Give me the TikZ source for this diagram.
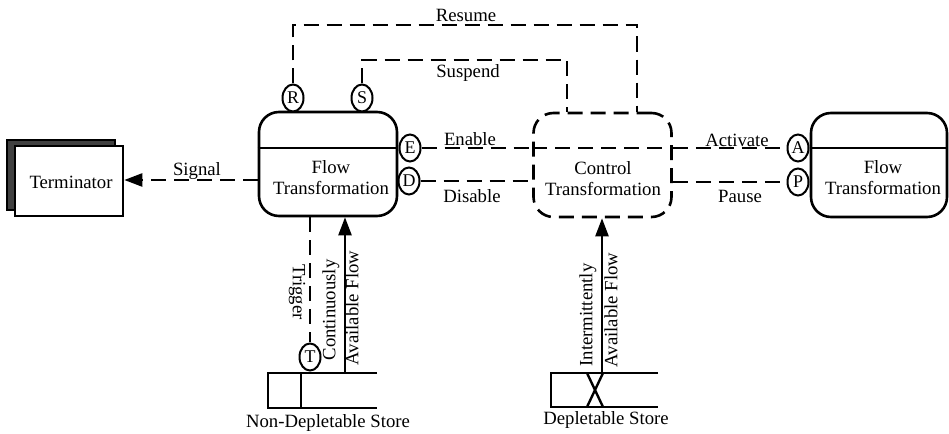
\documentclass[tikz,border=0pt]{standalone}
\usepackage{fontspec}
\setmainfont{Liberation Serif}
\usetikzlibrary{arrows.meta,shapes.geometric}

\begin{document}
\begin{tikzpicture}[x=1bp,y=-1bp,
  every node/.style={font=\fontsize{18.8}{21}\selectfont},
  line/.style={line width=2.4bp},
  ctl/.style={line width=2.4bp, dash pattern=on 15bp off 8bp},
  flowbox/.style={draw, line width=2.6bp, rounded corners=20bp,
    minimum width=138bp, minimum height=104bp, inner sep=0},
  ctlbox/.style={flowbox, dash pattern=on 15bp off 8bp},
  port/.style={draw, ellipse, line width=2bp, fill=white,
    minimum width=21bp, minimum height=27bp, inner sep=0,
    font=\fontsize{18}{18}\selectfont},
  lbl/.style={inner sep=0, align=center},
  tip/.style={-{Triangle[length=18bp,width=13bp]}}
]
\useasboundingbox (0,0) rectangle (949,434);

% level of the dividing lines in the transformation boxes
\coordinate (dv) at (0,148);

% terminator with its shadow
\node[draw, line width=2bp, fill=black!75, minimum width=108bp,
  minimum height=70bp] (shadow) at (61,175) {};
\node[draw, line width=2.6bp, fill=white, minimum width=108bp,
  minimum height=70bp] (term) at (69,181) {};
\node[lbl] (termt) at (71,182) {Terminator};

% transformations
\node[flowbox] (ft1) at (328,164) {};
\node[lbl] (ft1t) at (331,178) {Flow\\Transformation};
\draw[line] (ft1.west |- dv) -- (ft1.east |- dv);

\node[ctlbox] (ct) at (602.5,165) {};
\node[lbl] (ctt) at (603,179) {Control\\Transformation};
\draw[ctl] (ct.west |- dv) -- (ct.east |- dv);

\node[flowbox, minimum width=136bp] (ft2) at (879,165) {};
\node[lbl] (ft2t) at (883,178) {Flow\\Transformation};
\draw[line] (ft2.west |- dv) -- (ft2.east |- dv);

% prompts
\node[port] (R) at (293,98) {R};
\node[port] (S) at (362,98) {S};
\node[port] (E) at (410,148) {E};
\node[port] (D) at (409,181) {D};
\node[port] (A) at (798,148) {A};
\node[port] (P) at (798,182) {P};
\node[port] (T) at (310,357) {T};

% control flows
\coordinate (rs) at (637,25);
\coordinate (ss) at (567,60);
\coordinate (sg) at (0,180);
\draw[ctl] (R.north) |- (rs) -- (rs |- ct.north);
\draw[ctl] (S.north) |- (ss) -- (ss |- ct.north);
\draw[ctl] (E.east) -- (E.east -| ct.west);
\draw[ctl] (D.east) -- (D.east -| ct.west);
\draw[ctl] (A.west -| ct.east) -- (A.west);
\draw[ctl] (P.west -| ct.east) -- (P.west);
\draw[ctl, tip] (ft1.west |- sg) -- (term.east |- sg);
\draw[ctl] (ft1.south -| T.north) -- (T.north);

\node[lbl] (lres) at (466,15) {Resume};
\node[lbl] (lsus) at (468,73) {Suspend};
\node[lbl] (lena) at (470,139) {Enable};
\node[lbl] (ldis) at (472,196) {Disable};
\node[lbl] (lact) at (737,140) {Activate};
\node[lbl] (lpau) at (740,196) {Pause};
\node[lbl] (lsig) at (197,171) {Signal};
\node[lbl, rotate=-90] (ltrg) at (297,292) {Trigger};

% non-depletable store
\node[inner sep=0, minimum width=109bp, minimum height=35bp] (nds) at (322.5,390.5) {};
\draw[line] (nds.north east) -- (nds.north west) -- (nds.south west) -- (nds.south east);
\draw[line] ([xshift=33bp]nds.north west) -- ([xshift=33bp]nds.south west);
\node[lbl] (ndsl) at (328,423) {Non-Depletable Store};
\coordinate (cf) at (345,373);
\draw[line, tip] (cf) -- (cf |- ft1.south);
\node[lbl, rotate=90] (lcon) at (331,310) {Continuously};
\node[lbl, rotate=90] (lav1) at (352,308) {Available Flow};

% depletable store
\node[inner sep=0, minimum width=107bp, minimum height=34bp] (ds) at (604.5,390) {};
\draw[line] (ds.north east) -- (ds.north west) -- (ds.south west) -- (ds.south east);
\draw[line] (587,373) -- (603,407) (603,373) -- (587,407);
\node[lbl] (dsl) at (606,420) {Depletable Store};
\coordinate (inf) at (602,373);
\draw[line, tip] (inf) -- (inf |- ct.south);
\node[lbl, rotate=90] (lint) at (588,315) {Intermittently};
\node[lbl, rotate=90] (lav2) at (611,310) {Available Flow};
\end{tikzpicture}
\end{document}
